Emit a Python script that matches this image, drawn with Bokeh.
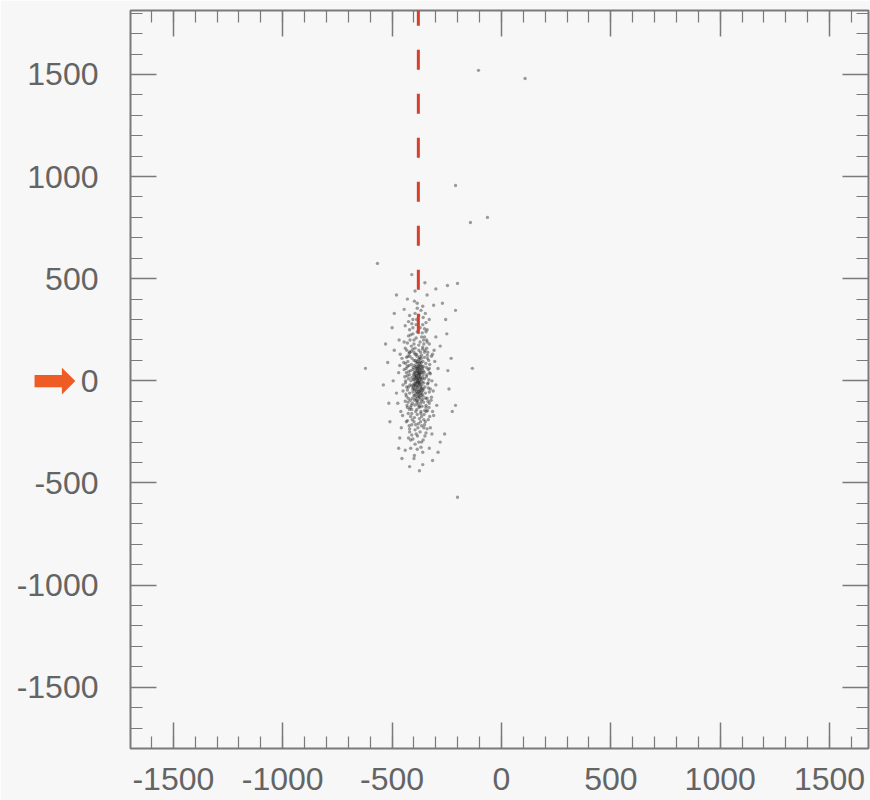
from bokeh.plotting import figure
from bokeh.models import Range1d, LinearAxis, FixedTicker, ColumnDataSource
from bokeh.embed import file_html
from bokeh.resources import INLINE

# ---------------- data ----------------
x_ticks = [-1500, -1000, -500, 0, 500, 1000, 1500]
y_ticks = [-1500, -1000, -500, 0, 500, 1000, 1500]
x_minor = list(range(-1700, 1701, 100))
y_minor = list(range(-1800, 1801, 100))

# dense core of the cloud
core_points = [
    (-385, 5), (-372, -12), (-391, 28), (-368, 40), (-402, -30), (-379, 62), (-360, -48),
    (-395, -70), (-375, 88), (-410, 15), (-352, 10), (-388, -95), (-366, 110), (-398, 75),
    (-383, -40), (-371, 20), (-405, -55), (-357, 70), (-392, 45), (-378, -75), (-364, -20),
    (-400, 100), (-386, 120), (-348, -60), (-415, 50), (-370, -110), (-393, -5), (-381, 35),
    (-359, 95), (-407, -85), (-376, -130), (-389, 130), (-353, 42), (-418, -20), (-367, 58),
    (-396, -118), (-374, 0), (-384, -60), (-361, -90), (-403, 30), (-377, 75), (-369, -35),
    (-390, 90), (-355, -10), (-412, 80), (-380, -20), (-365, 125), (-399, -40), (-372, 50),
    (-387, -140), (-346, 85), (-420, -60), (-363, -125), (-394, 15), (-379, 105), (-358, 30),
    (-409, 110), (-383, -100), (-370, 140), (-401, -15), (-375, -50), (-392, 60), (-350, -30),
    (-414, 0), (-366, 5), (-388, 25), (-361, 60), (-397, -95), (-382, 70), (-373, -80),
    (-404, 55), (-356, -105), (-391, -25), (-378, 150), (-368, -150), (-385, 45), (-343, 20),
    (-421, 30), (-376, 15), (-395, 130), (-362, -65), (-408, -110), (-371, 95), (-384, -10),
    (-352, 115), (-417, -95), (-380, 38), (-366, -55), (-399, 8), (-374, -125),
    (-381, 12), (-377, -8), (-388, 18), (-373, 33), (-394, -18), (-369, -28), (-384, 52),
    (-379, -52), (-398, 42), (-365, 42), (-386, -32), (-372, 68), (-391, -60), (-360, 15),
    (-402, 5), (-376, -88), (-383, 85), (-368, -70), (-395, -45), (-374, 110), (-387, 8),
    (-362, -5), (-406, -40), (-378, 25), (-390, 70), (-371, -45), (-382, -118), (-358, 48),
    (-400, -72), (-367, 88), (-385, -78), (-379, 0), (-393, 100), (-363, -38), (-374, -15),
    (-389, -50), (-370, 78), (-397, 22), (-381, -25), (-366, -98), (-404, 65), (-377, 45),
    (-359, -75), (-392, -85), (-384, 95), (-372, -62), (-387, 60), (-375, 32), (-380, -65),
    (-369, 12), (-396, 35), (-383, -5), (-364, 72), (-399, -22), (-376, 58), (-390, -10),
    (-357, -40), (-410, -25), (-373, 118), (-386, -108),
]

# wider shoulder of the core
shoulder_points = [
    (-425, 10), (-338, -15), (-430, -45), (-335, 55), (-428, 95), (-340, -85), (-432, -120),
    (-333, 100), (-422, 135), (-345, -130), (-436, 60), (-330, -55), (-426, -85), (-337, 140),
    (-439, -10), (-332, 5), (-424, 45), (-344, -150), (-434, 115), (-328, 80), (-421, -140),
    (-341, 30), (-437, -65), (-336, -100), (-423, 75), (-339, 125), (-431, 25), (-334, -35),
    (-427, -105), (-343, 65), (-419, 120), (-347, -85), (-433, -30), (-329, 40), (-416, -130),
    (-349, 150), (-438, 85), (-331, -130), (-413, 145), (-351, -145), (-395, 160), (-365, -175),
    (-410, -160), (-355, 180), (-385, -165), (-378, 175), (-400, 140), (-369, -160), (-392, -150),
    (-361, 155),
]

# middle ring of the cloud
ring_points = [
    (-440, 160), (-330, 180), (-460, -150), (-310, -170), (-425, 220), (-345, 240), (-470, 40),
    (-300, -20), (-435, -200), (-325, -230), (-455, 110), (-315, 130), (-390, 210), (-380, -210),
    (-405, 260), (-360, 275), (-420, -250), (-350, -270), (-480, -60), (-290, 60), (-445, 190),
    (-335, -190), (-398, -180), (-372, 190), (-412, 170), (-356, 200), (-430, -130), (-338, -145),
    (-465, 75), (-305, 95), (-385, 240), (-395, -240), (-450, -20), (-320, -80), (-428, 120),
    (-342, 160), (-474, -110), (-296, -120), (-415, -290), (-365, -300), (-388, 300), (-440, 270),
    (-330, 300), (-490, 150), (-280, 170), (-458, -230), (-318, -260), (-400, 180), (-375, -185),
    (-362, 235), (-410, -215), (-445, 55), (-325, 35), (-435, -75), (-312, -50), (-468, 200),
    (-300, 215), (-420, 320), (-348, 330), (-384, -270), (-452, -170), (-330, -110), (-438, 0),
    (-318, 0), (-405, 155), (-354, -165), (-463, 130), (-308, 150), (-426, -160), (-340, 250),
    (-420, 140), (-345, -120), (-435, 40), (-330, 60), (-410, -140), (-352, 140), (-440, -100),
    (-325, -40), (-418, 200), (-348, -200), (-425, -30), (-338, 110), (-447, 90), (-315, -150),
    (-405, 230), (-355, -230), (-430, 70), (-335, -10), (-415, -175), (-360, 165), (-450, -50),
    (-320, 120), (-412, -120), (-342, 200), (-433, 150), (-328, -175), (-422, -220), (-352, 215),
    (-442, 20), (-322, -95),
    (-400, 200), (-365, 215), (-410, 280), (-372, 260), (-395, 330), (-358, 310), (-420, 250),
    (-345, 285), (-385, 355), (-405, 300), (-368, 345), (-430, 185), (-352, 255), (-390, 275),
    (-378, 320), (-415, 225), (-360, 365), (-398, 390), (-340, 190), (-425, 290),
    (-400, -200), (-365, -220), (-410, -265), (-372, -250), (-395, -310), (-358, -290),
    (-420, -235), (-345, -255), (-385, -335), (-405, -285), (-368, -325), (-430, -195),
    (-352, -215), (-390, -260), (-378, -300), (-415, -330), (-360, -350), (-398, -365),
    (-340, -235), (-425, -280), (-382, -230), (-370, -200), (-408, -190), (-392, -215),
    (-355, -190),
]

# sparse outer halo
halo_points = [
    (-520, 90), (-240, -40), (-510, -200), (-250, 230), (-490, 330), (-270, 380), (-470, -330),
    (-290, -350), (-430, 400), (-340, 420), (-400, -380), (-360, -410), (-540, -20), (-230, 110),
    (-500, 260), (-260, -260), (-455, -380), (-310, 370), (-395, 440), (-420, -420), (-350, 480),
    (-480, 420), (-280, -300), (-530, 180), (-225, -150), (-445, 350), (-300, 450), (-410, 520),
    (-375, -440), (-330, -330), (-465, -280), (-495, 0), (-255, 300), (-385, 380), (-440, -340),
    (-315, -390), (-515, -110), (-245, 50),
]

# isolated points
outlier_points = [
    (-567, 575), (-622, 61), (-133, 61), (-201, -570), (-247, 467), (-201, 477), (-210, 345),
    (-210, -120), (-210, 956), (-142, 775), (-64, 800), (-105, 1520), (108, 1480),
]

# marked position (red dashed line)
marker_x = [-380]
marker_y_start = [230]
marker_y_end = [1900]
pointer_text = "\u27A1"   # orange arrow pointing at y = 0

# ---------------- figure ----------------
bg = "#f7f7f7"
axis_grey = "#7a7a7a"
label_grey = "#646464"
font = "Liberation Sans"
orange = "#ef5b25"
red = "#d63f2b"

p = figure(width=870, height=800,
           x_range=Range1d(-1696, 1678), y_range=Range1d(-1800, 1813),
           output_backend="svg", toolbar_location=None,
           min_border_left=130, min_border_right=2, min_border_top=10, min_border_bottom=52,
           background_fill_color=bg, border_fill_color=bg)
p.grid.visible = False
p.outline_line_color = axis_grey
p.outline_line_width = 2

all_pts = core_points + shoulder_points + ring_points + halo_points + outlier_points
src = ColumnDataSource(dict(x=[q[0] for q in all_pts], y=[q[1] for q in all_pts]))
p.scatter("x", "y", source=src, marker="circle", size=3.4,
          fill_color="#1c1c1c", fill_alpha=0.42, line_color=None)

p.segment(x0=marker_x, y0=marker_y_start, x1=marker_x, y1=marker_y_end,
          line_color=red, line_width=3, line_dash="20 24")


def style_axis(ax, ticks, minor, show_labels):
    ax.ticker = FixedTicker(ticks=ticks, minor_ticks=minor)
    ax.axis_line_color = None
    ax.major_tick_in = 26
    ax.major_tick_out = 0
    ax.minor_tick_in = 12
    ax.minor_tick_out = 0
    ax.major_tick_line_color = axis_grey
    ax.major_tick_line_width = 1.5
    ax.minor_tick_line_color = axis_grey
    ax.minor_tick_line_width = 1.2
    if show_labels:
        ax.major_label_text_font = font
        ax.major_label_text_font_size = "32px"
        ax.major_label_text_color = label_grey
        ax.major_label_overrides = {t: str(t) for t in ticks}
    else:
        ax.major_label_text_font_size = "1px"
        ax.major_label_text_color = None
        ax.major_label_standoff = 0


style_axis(p.xaxis[0], x_ticks, x_minor, True)
p.xaxis[0].major_label_standoff = 19
yax = p.yaxis[0]
style_axis(yax, y_ticks, y_minor, True)
yax.major_label_standoff = 32

# the orange pointer is drawn as the y axis' own label, centred on the axis
# (the frame's middle coincides with y = 0) and pulled in next to the "0" label
yax.axis_label = pointer_text
yax.axis_label_text_font = "DejaVu Sans"
yax.axis_label_text_font_size = "54px"
yax.axis_label_text_font_style = "normal"
yax.axis_label_text_color = orange
if "axis_label_orientation" in yax.properties():
    yax.axis_label_orientation = "horizontal"
yax.axis_label_standoff = -63

top = LinearAxis()
right = LinearAxis()
style_axis(top, x_ticks, x_minor, False)
style_axis(right, y_ticks, y_minor, False)
p.add_layout(top, "above")
p.add_layout(right, "right")

open("out.html", "w").write(file_html(p, INLINE))
